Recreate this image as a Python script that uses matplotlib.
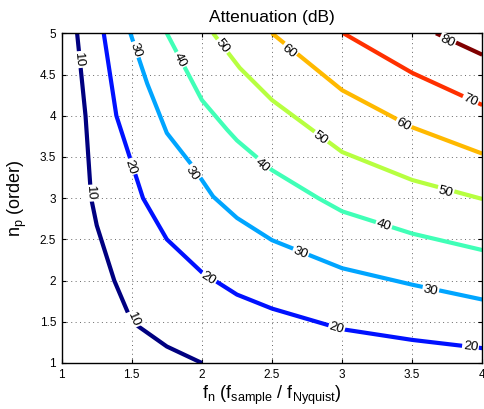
import numpy as np
import matplotlib
matplotlib.use("Agg")
import matplotlib.pyplot as plt

plt.rcParams['font.family'] = ['Liberation Sans', 'DejaVu Sans']
plt.rcParams['mathtext.fontset'] = 'custom'
plt.rcParams['mathtext.rm'] = 'Liberation Sans'
plt.rcParams['mathtext.it'] = 'Liberation Sans'

# contour levels (dB)
levels = [10, 20, 30, 40, 50, 60, 70, 80]

# contour lines: (f_n, n_p)
f_10 = [2.0, 1.75, 1.5, 1.375, 1.25, 1.21, 1.17, 1.11]
n_10 = [1.0, 1.2, 1.5, 2.0, 2.67, 3.0, 4.0, 5.0]
f_20 = [4.0, 3.5, 3.0, 2.5, 2.25, 2.0, 1.75, 1.58, 1.39, 1.30]
n_20 = [1.18, 1.28, 1.41, 1.66, 1.83, 2.1, 2.5, 3.0, 4.0, 5.0]
f_30 = [4.0, 3.5, 3.0, 2.5, 2.25, 2.08, 1.92, 1.75, 1.61, 1.49]
n_30 = [1.77, 1.95, 2.15, 2.49, 2.76, 3.02, 3.42, 3.79, 4.39, 5.0]
f_40 = [4.0, 3.5, 3.0, 2.83, 2.5, 2.25, 2.18, 2.0, 1.75]
n_40 = [2.37, 2.57, 2.84, 3.0, 3.34, 3.70, 3.83, 4.19, 5.0]
f_50 = [4.0, 3.5, 3.0, 2.5, 2.27, 2.08]
n_50 = [2.99, 3.22, 3.56, 4.19, 4.58, 5.0]
f_60 = [4.0, 3.5, 3.0, 2.5]
n_60 = [3.54, 3.86, 4.31, 5.0]
f_70 = [4.0, 3.5, 3.01]
n_70 = [4.13, 4.52, 5.0]
f_80 = [4.0, 3.67]
n_80 = [4.74, 5.0]

# inline label spots
lab_f_10 = [1.121, 1.202, 1.511]
lab_n_10 = [4.68, 3.06, 1.53]
lab_f_20 = [1.493, 2.045, 2.96, 3.916]
lab_n_20 = [3.38, 2.02, 1.42, 1.20]
lab_f_30 = [1.524, 1.929, 2.702, 3.631]
lab_n_30 = [4.80, 3.30, 2.33, 1.88]
lab_f_40 = [1.845, 2.429, 3.297]
lab_n_40 = [4.68, 3.40, 2.67]
lab_f_50 = [2.143, 2.845, 3.738]
lab_n_50 = [4.84, 3.73, 3.08]
lab_f_60 = [2.619, 3.436]
lab_n_60 = [4.78, 3.89]
lab_f_70 = [3.916]
lab_n_70 = [4.19]
lab_f_80 = [3.75]
lab_n_80 = [4.90]

lines_f = [f_10, f_20, f_30, f_40, f_50, f_60, f_70, f_80]
lines_n = [n_10, n_20, n_30, n_40, n_50, n_60, n_70, n_80]
labs_f = [lab_f_10, lab_f_20, lab_f_30, lab_f_40, lab_f_50, lab_f_60, lab_f_70, lab_f_80]
labs_n = [lab_n_10, lab_n_20, lab_n_30, lab_n_40, lab_n_50, lab_n_60, lab_n_70, lab_n_80]

colors = plt.cm.jet(np.linspace(0, 1, len(levels)))

fig = plt.figure(figsize=(4.85, 4.09), dpi=100)
ax = fig.add_axes([0.1272, 0.1125, 0.8672, 0.8061])
ax.set_xlim(1, 4)
ax.set_ylim(1, 5)

ax.grid(True, linestyle=(0, (1, 3.5)), color='0.4', linewidth=0.7)
ax.set_axisbelow(True)

for lev, fx, ny, lfx, lny, c in zip(levels, lines_f, lines_n, labs_f, labs_n, colors):
    ax.plot(fx, ny, color=c, linewidth=3, solid_capstyle='butt', zorder=2)
    pts = ax.transData.transform(np.column_stack([fx, ny]))
    for lf, ln in zip(lfx, lny):
        p = ax.transData.transform((lf, ln))
        # nearest segment gives the text angle
        best = None
        for i in range(len(pts) - 1):
            a, b = pts[i], pts[i + 1]
            d = b - a
            t = np.clip(np.dot(p - a, d) / np.dot(d, d), 0, 1)
            dist = np.linalg.norm(a + t * d - p)
            if best is None or dist < best[0]:
                best = (dist, d)
        ang = np.degrees(np.arctan2(best[1][1], best[1][0]))
        if ang > 90:
            ang -= 180
        if ang <= -90:
            ang += 180
        ax.text(lf, ln, str(lev), rotation=ang, rotation_mode='anchor',
                ha='center', va='center', fontsize=9.5, zorder=3,
                bbox=dict(facecolor='white', edgecolor='none', pad=0.8))

ax.set_xticks([1, 1.5, 2, 2.5, 3, 3.5, 4])
ax.set_xticklabels(['1', '1.5', '2', '2.5', '3', '3.5', '4'])
ax.set_yticks([1, 1.5, 2, 2.5, 3, 3.5, 4, 4.5, 5])
ax.set_yticklabels(['1', '1.5', '2', '2.5', '3', '3.5', '4', '4.5', '5'])
ax.tick_params(direction='in', length=3, width=0.8, top=True, right=True,
               labelsize=8.5, pad=4)
for s in ax.spines.values():
    s.set_linewidth(1.0)

ax.set_title('Attenuation (dB)', fontsize=12.5, pad=8)
ax.set_xlabel(r'$\mathregular{f_n\ (f_{sample}\ /\ f_{Nyquist})}$', fontsize=13, labelpad=2)
ax.set_ylabel(r'$\mathregular{n_p\ (order)}$', fontsize=13, labelpad=8)

fig.savefig('out.png', dpi=100)
